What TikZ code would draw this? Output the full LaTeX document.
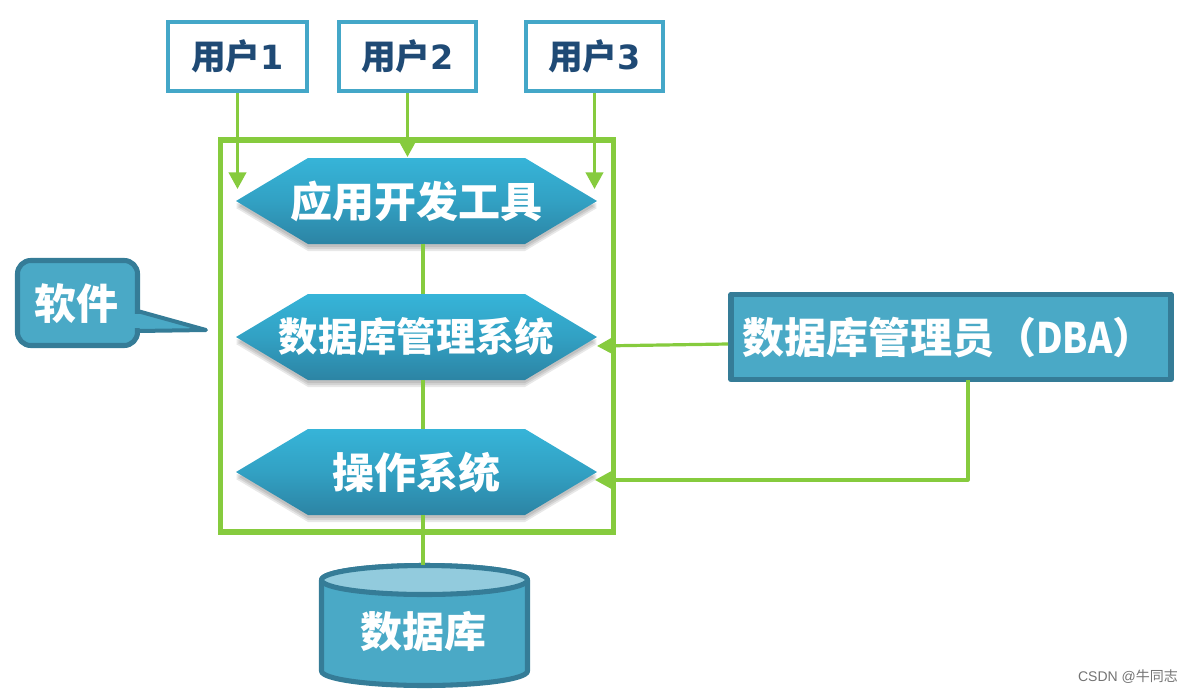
\documentclass[tikz,border=0pt]{standalone}
\usepackage{graphicx}
\usepackage{fontspec}
\setmainfont{Noto Sans CJK SC}
\newfontfamily\digitfont{DejaVu Sans}
\newfontfamily\latinfont{Liberation Sans}
\usetikzlibrary{arrows.meta,calc}
\definecolor{grn}{HTML}{86CB3E}
\definecolor{ublue}{HTML}{44A7C8}
\definecolor{fillb}{HTML}{4AA9C6}
\definecolor{darkb}{HTML}{357C97}
\definecolor{navy}{HTML}{1F4A75}
\definecolor{hextop}{HTML}{36B4D8}
\definecolor{hexbot}{HTML}{2C84A4}
\definecolor{lidb}{HTML}{92CBDD}
\tikzset{
  userbox/.style={draw=ublue,line width=3.4pt,fill=white,minimum width=103pt,minimum height=51.5pt,inner sep=0pt,text=navy,font=\fontsize{26}{26}\selectfont\bfseries},
  hexlabel/.style={minimum width=270.75pt,minimum height=64pt,inner sep=0pt,text=white,font=\fontsize{31.5}{32}\selectfont\bfseries},
  hexfill/.style={top color=hextop,bottom color=hexbot,middle color=hextop!60!hexbot,draw=none},
  hexshade/.style={fill=black,fill opacity=.09,draw=none},
  darkshape/.style={draw=darkb,line width=3.8pt,fill=fillb,line join=round},
  whitetxt/.style={inner sep=0pt,text=white,font=\fontsize{31.5}{32}\selectfont\bfseries},
  link/.style={draw=grn,line width=2.6pt},
  flow/.style={draw=grn,line width=2.4pt,-{Triangle[length=12.5pt,width=13pt]}}
}
\newcommand{\hexoutline}[2]{(236,#1+#2) -- (308,#1-43+#2) -- (525,#1-43+#2) -- (597,#1+#2) -- (525,#1+43+#2) -- (308,#1+43+#2) -- cycle}
\newcommand{\hexat}[1]{%
  \path[hexshade] \hexoutline{#1}{7};
  \path[hexshade] \hexoutline{#1}{5};
  \path[hexshade] \hexoutline{#1}{3};
  \path[hexfill] \hexoutline{#1}{0};}
\begin{document}
\begin{tikzpicture}[x=.75pt,y=-.75pt]
\useasboundingbox (0,0) rectangle (1192,693);
% frame
\node[draw=grn,line width=4.2pt,minimum width=294.5pt,minimum height=294pt,inner sep=0pt] (frame) at (417,336) {};
% hexagons
\hexat{201}\hexat{337}\hexat{472}
\node[hexlabel] (h1) at (416.5,201) {应用开发工具};
\node[hexlabel,font=\fontsize{29.5}{30}\selectfont\bfseries] (h2) at (416.5,337) {数据库管理系统};
\node[hexlabel] (h3) at (416.5,472) {操作系统};
% users
\node[userbox,minimum width=104pt] (u1) at (237.5,56.5) {用户{\digitfont\fontsize{25}{25}\selectfont 1}};
\node[userbox] (u2) at (407.5,56.5) {用户{\digitfont\fontsize{25}{25}\selectfont 2}};
\node[userbox] (u3) at (594.5,56.5) {用户{\digitfont\fontsize{25}{25}\selectfont 3}};
% database cylinder
\path[darkshape] (321.5,580) -- (321.5,671) arc[start angle=180,end angle=0,x radius=103,y radius=14.5] -- (527.5,580) arc[start angle=0,end angle=-180,x radius=103,y radius=14.5] -- cycle;
\path[darkshape,fill=lidb] (424.5,580) ellipse[x radius=103,y radius=14.5];
\node[whitetxt,minimum width=200pt,minimum height=90pt] (db) at (423,625) {};
\node[whitetxt] (dbtext) at (423,632) {数据库};
% callout
\path[darkshape,rounded corners=10pt] (17.5,260.5) rectangle (137.5,345.5);
\path[draw=darkb,line width=3pt,fill=fillb,line join=round] (137.5,311) -- (206,330) -- (137.5,331) -- cycle;
\path[fill=fillb] (131,314) rectangle (140,328);
\node[whitetxt] (sw) at (76,304) {软件};
% DBA
\node[darkshape,minimum width=330pt,minimum height=64pt,inner sep=0pt] (dba) at (951,337) {};
\node[whitetxt,anchor=west] (dbatext) at (742,338) {数据库管理员（\scalebox{.87}[1]{DBA}）};
% connectors
\coordinate (a1) at (237.5,189);
\coordinate (a2) at (407.5,157);
\coordinate (a3) at (594.5,189);
\draw[flow] (u1.south) -- (a1);
\draw[flow] (u2.south) -- (a2);
\draw[flow] (u3.south) -- (a3);
\draw[link] ($(h1.south)+(6.5,0)$) -- ($(h2.north)+(6.5,0)$);
\draw[link] ($(h2.south)+(6.5,0)$) -- ($(h3.north)+(6.5,0)$);
\draw[link] ($(h3.south)+(6.5,0)$) -- (db.north);
\coordinate (b1) at (728,344);
\coordinate (b2) at (597,346);
\draw[flow] (b1) -- (b2);
\coordinate (c0) at (968,380);
\coordinate (c1) at (968,480);
\coordinate (c2) at (595,480);
\draw[flow,line join=round] (c0) -- (c1) -- (c2);
% watermark
\node[inner sep=0pt,text=black!55,font=\fontsize{10.5}{11}\selectfont] (mark) at (1128,677) {{\latinfont CSDN @}牛同志};
\end{tikzpicture}
\end{document}
